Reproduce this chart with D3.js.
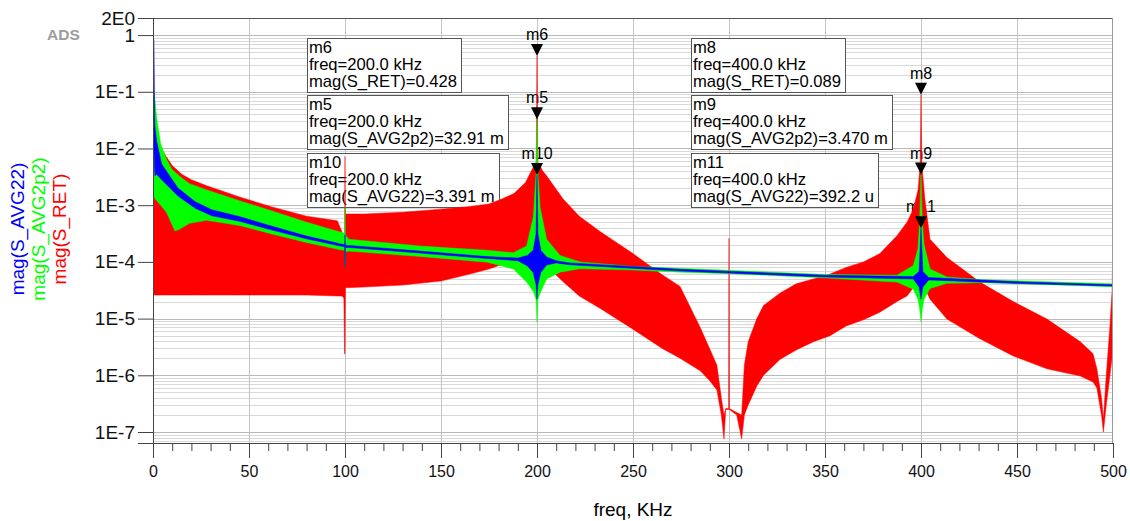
<!DOCTYPE html>
<html lang="en">
<head>
<meta charset="UTF-8">
<title>mag(S) vs freq</title>
<script src="https://d3js.org/d3.v7.min.js"></script>
<style>
  body { margin: 0; background: #fff; }
  svg { display: block; font-family: "Liberation Sans", Arial, sans-serif; }
</style>
</head>
<body>
<svg></svg>
<script>
// envelopes: freq in kHz, upper / lower magnitude of each trace
const retFreq  = [0, 1, 2, 4, 6, 10, 15, 20, 28, 45, 62, 80, 96, 98.4, 99.4, 99.8, 100, 100.2, 110, 130, 150, 165, 175, 182, 188, 194, 197, 199.6, 200, 200.4, 203, 205, 213.5, 222, 233, 250, 265, 274.5, 285, 290, 293.7, 296, 297.4, 298.3, 299.8, 300, 300.2, 304, 306.6, 308, 310, 314.5, 318, 326.5, 335, 344, 352.6, 361, 370, 378.6, 387.5, 392.7, 396, 398.5, 399.6, 400, 400.4, 402, 404.7, 413.5, 430.7, 448, 465.6, 483, 489.6, 491.6, 494, 495, 496.5, 498.4, 499.5, 500];
const retUpper = [4.5e-2, 3.3e-2, 1.8e-2, 1.06e-2, 8.0e-3, 5.0e-3, 3.5e-3, 2.8e-3, 2.2e-3, 1.4e-3, 9.3e-4, 6.4e-4, 5.3e-4, 3.4e-4, 2.1e-4, 1.9e-4, 7.3e-3, 7.0e-4, 7.0e-4, 7.5e-4, 8.5e-4, 9.5e-4, 1.05e-3, 1.3e-3, 1.6e-3, 2.5e-3, 4.0e-3, 5.8e-3, 0.428, 5.8e-3, 4.0e-3, 3.3e-3, 1.3e-3, 6.4e-4, 3.4e-4, 1.4e-4, 6.0e-5, 3.7e-5, 7.0e-6, 2.9e-6, 1.5e-6, 4.0e-7, 2.0e-7, 2.6e-7, 2.6e-7, 2.6e-4, 2.6e-7, 2.2e-7, 2.0e-7, 1.5e-6, 3.9e-6, 1.0e-5, 1.7e-5, 2.8e-5, 4.1e-5, 5.0e-5, 6.1e-5, 8.0e-5, 1.0e-4, 1.4e-4, 2.9e-4, 5.0e-4, 8.5e-4, 1.9e-3, 5.3e-3, 8.9e-2, 5.3e-3, 1.3e-3, 2.5e-4, 1.2e-4, 4.4e-5, 2.0e-5, 9.8e-6, 3.9e-6, 2.4e-6, 1.3e-6, 4.0e-7, 1.7e-7, 1.0e-6, 7.4e-6, 3.0e-5, 2.5e-4];
const retLower = [2.6e-5, 2.6e-5, 2.6e-5, 2.6e-5, 2.6e-5, 2.6e-5, 2.6e-5, 2.6e-5, 2.6e-5, 2.6e-5, 2.6e-5, 2.6e-5, 2.5e-5, 2.5e-5, 2.3e-5, 2.4e-6, 2.4e-6, 3.5e-5, 3.6e-5, 3.9e-5, 4.6e-5, 6.1e-5, 7.5e-5, 9.1e-5, 1.1e-4, 1.5e-4, 1.7e-4, 1.8e-4, 1.8e-4, 1.7e-4, 1.2e-4, 8.5e-5, 4.5e-5, 2.5e-5, 1.5e-5, 6.5e-6, 3.0e-6, 2.0e-6, 1.2e-6, 8.0e-7, 5.5e-7, 2.0e-7, 7.5e-8, 2.5e-7, 2.5e-7, 2.5e-7, 2.5e-7, 2.0e-7, 7.5e-8, 2.0e-7, 3.0e-7, 6.5e-7, 1.0e-6, 1.9e-6, 2.8e-6, 3.9e-6, 5.0e-6, 7.4e-6, 9.5e-6, 1.3e-5, 2.0e-5, 2.5e-5, 3.5e-5, 4.4e-5, 5.0e-5, 5.0e-5, 5.0e-5, 3.5e-5, 2.2e-5, 9.8e-6, 4.4e-6, 2.2e-6, 1.3e-6, 9.7e-7, 7.6e-7, 6.0e-7, 2.0e-7, 1.0e-7, 3.0e-7, 1.0e-6, 2.0e-6, 5.0e-6];

const avg2p2Freq  = [0, 0.5, 1, 2, 4, 7, 10, 11.5, 14, 19, 28, 45, 62, 80, 97, 99.8, 100, 100.2, 102, 139, 174, 187.7, 194.6, 198.1, 199.5, 200, 200.5, 201.6, 205, 212, 222.4, 250, 274.5, 300, 351, 387.5, 396, 398.4, 399.3, 400, 400.7, 401.6, 404.7, 413.5, 430.7, 500];
const avg2p2Upper = [0.12, 0.1, 7.4e-2, 3.3e-2, 1.2e-2, 6.5e-3, 4.2e-3, 3.8e-3, 3.2e-3, 2.4e-3, 1.85e-3, 1.2e-3, 7.9e-4, 5.0e-4, 3.4e-4, 3.2e-4, 9.2e-4, 3.0e-4, 2.5e-4, 1.9e-4, 1.6e-4, 1.45e-4, 1.9e-4, 6.2e-4, 3.5e-3, 3.291e-2, 3.5e-3, 9.2e-4, 2.5e-4, 1.3e-4, 1.0e-4, 8.3e-5, 7.7e-5, 7.1e-5, 6.0e-5, 5.8e-5, 8.6e-5, 1.7e-4, 5.0e-4, 3.47e-3, 5.0e-4, 2.0e-4, 7.5e-5, 5.4e-5, 4.9e-5, 4.1e-5];
const avg2p2Lower = [3.0e-3, 1.5e-3, 1.3e-3, 1.2e-3, 1.0e-3, 7.5e-4, 4.5e-4, 3.5e-4, 3.8e-4, 4.8e-4, 5.4e-4, 4.4e-4, 3.1e-4, 2.2e-4, 1.65e-4, 1.6e-4, 8.1e-5, 1.5e-4, 1.55e-4, 1.25e-4, 9.9e-5, 7.5e-5, 4.4e-5, 3.0e-5, 2.2e-5, 8.7e-6, 2.2e-5, 2.8e-5, 5.0e-5, 6.6e-5, 7.6e-5, 7.2e-5, 6.6e-5, 6.2e-5, 5.2e-5, 4.4e-5, 3.3e-5, 2.2e-5, 1.5e-5, 8.7e-6, 1.5e-5, 2.2e-5, 3.4e-5, 4.2e-5, 4.3e-5, 3.65e-5];

const avg22Freq  = [0, 0.5, 0.8, 1, 1.9, 4.5, 13, 22, 30.6, 45, 62.5, 80, 97, 99.8, 100, 100.2, 102, 139, 174, 190, 195, 198, 199.5, 200, 200.5, 202, 205, 210, 217, 274.5, 351, 396, 399, 400, 401, 404, 448, 500];
const avg22Upper = [1.0, 0.8, 5e-2, 2.5e-2, 1.35e-2, 5.3e-3, 2.0e-3, 1.15e-3, 8.3e-4, 6.3e-4, 4.2e-4, 2.85e-4, 2.1e-4, 2.0e-4, 3.0e-4, 1.97e-4, 1.95e-4, 1.55e-4, 1.24e-4, 1.17e-4, 1.3e-4, 1.6e-4, 3.1e-4, 3.391e-3, 3.1e-4, 1.6e-4, 1.22e-4, 1.05e-4, 9.6e-5, 7.4e-5, 5.8e-5, 5.5e-5, 6.8e-5, 3.922e-4, 6.8e-5, 5.3e-5, 4.5e-5, 3.95e-5];
const avg22Lower = [1.0e-2, 1.0e-2, 4.5e-3, 3.3e-3, 3.5e-3, 2.8e-3, 1.45e-3, 8.8e-4, 6.5e-4, 5.2e-4, 3.6e-4, 2.55e-4, 1.92e-4, 1.85e-4, 8.1e-5, 1.8e-4, 1.8e-4, 1.43e-4, 1.15e-4, 1.05e-4, 8.5e-5, 6.5e-5, 4.0e-5, 2.2e-5, 4.0e-5, 6.5e-5, 8.8e-5, 9.6e-5, 8.9e-5, 6.9e-5, 5.4e-5, 5.0e-5, 3.6e-5, 2.2e-5, 3.6e-5, 4.8e-5, 4.2e-5, 3.75e-5];

// markers
const markerNames   = ["m6", "m5", "m10", "m8", "m9", "m11"];
const markerFreq    = [200, 200, 200, 400, 400, 400];
const markerValue   = [0.428, 0.03291, 0.003391, 0.089, 0.00347, 0.0003922];
const markerSeries  = ["S_RET", "S_AVG2p2", "S_AVG22", "S_RET", "S_AVG2p2", "S_AVG22"];
const markerReadout = ["0.428", "32.91 m", "3.391 m", "0.089", "3.470 m", "392.2 u"];

// axes
const xTickValues = [0, 50, 100, 150, 200, 250, 300, 350, 400, 450, 500];
const yTickValues = [2, 1, 1e-1, 1e-2, 1e-3, 1e-4, 1e-5, 1e-6, 1e-7];
const yTickLabels = ["2E0", "1", "1E-1", "1E-2", "1E-3", "1E-4", "1E-5", "1E-6", "1E-7"];

const width = 1130, height = 521;
const pLeft = 153, pRight = 1113, pTop = 18, pBottom = 443;

const svg = d3.select("svg").attr("width", width).attr("height", height);

const x = d3.scaleLinear().domain([0, 500]).range([pLeft, pRight]);
const y = d3.scaleLog().domain([6.4e-8, 2]).range([pBottom, pTop]);

// grid
const grid = svg.append("g");
grid.selectAll("line.h")
  .data(y.ticks())
  .join("line")
  .attr("x1", pLeft).attr("x2", pRight)
  .attr("y1", d => Math.round(y(d)) + 0.5).attr("y2", d => Math.round(y(d)) + 0.5)
  .attr("stroke", d => Math.abs(Math.log10(d) - Math.round(Math.log10(d))) < 1e-9 ? "#b9b9b9" : "#d9d9d9");
grid.selectAll("line.v")
  .data(xTickValues.slice(1, -1))
  .join("line")
  .attr("x1", d => Math.round(x(d)) + 0.5).attr("x2", d => Math.round(x(d)) + 0.5)
  .attr("y1", pTop).attr("y2", pBottom)
  .attr("stroke", "#c4c4c4");

// marker readout boxes
const boxLeft = {200: 307, 400: 691};
const boxTop = [38, 95, 153];
const boxes = svg.append("g");
markerNames.forEach((name, i) => {
  const g = boxes.append("g")
    .attr("transform", `translate(${boxLeft[markerFreq[i]]},${boxTop[i % 3]})`);
  const rect = g.append("rect").attr("fill", "#fff").attr("stroke", "#555");
  const lines = [name, `freq=${markerFreq[i].toFixed(1)} kHz`, `mag(${markerSeries[i]})=${markerReadout[i]}`];
  const t = g.selectAll("text").data(lines).join("text")
    .attr("x", 2).attr("y", (d, j) => 15 + j * 17)
    .attr("font-size", 16.6).attr("fill", "#000")
    .text(d => d);
  const w = d3.max(t.nodes(), n => n.getComputedTextLength());
  rect.attr("x", 0.5).attr("y", 0.5).attr("width", Math.round(w) + 6).attr("height", 54);
});

// marker labels (under the traces)
svg.append("g").selectAll("text")
  .data(markerNames)
  .join("text")
  .attr("x", (d, i) => x(markerFreq[i]))
  .attr("y", (d, i) => y(markerValue[i]) - 16)
  .attr("text-anchor", "middle")
  .attr("font-size", 16)
  .text(d => d);

// traces
svg.append("clipPath").attr("id", "plot")
  .append("rect").attr("x", pLeft).attr("y", pTop).attr("width", pRight - pLeft).attr("height", pBottom - pTop);

const traces = [
  {f: retFreq, up: retUpper, lo: retLower, color: "#ff0000"},
  {f: avg2p2Freq, up: avg2p2Upper, lo: avg2p2Lower, color: "#00ff00"},
  {f: avg22Freq, up: avg22Upper, lo: avg22Lower, color: "#0000ff"}
];
const area = d3.area()
  .x(d => x(d[0]))
  .y0(d => y(d[2]))
  .y1(d => y(d[1]));

svg.append("g").attr("clip-path", "url(#plot)")
  .selectAll("path")
  .data(traces)
  .join("path")
  .attr("d", t => area(t.f.map((f, i) => [f, t.up[i], t.lo[i]])))
  .attr("fill", t => t.color)
  .attr("stroke", t => t.color)
  .attr("stroke-width", 0.5)
  .attr("stroke-linejoin", "round");

// marker triangles
svg.append("g").selectAll("path")
  .data(markerNames)
  .join("path")
  .attr("transform", (d, i) => `translate(${x(markerFreq[i])},${y(markerValue[i])})`)
  .attr("d", "M-6,-12L6,-12L0,0Z")
  .attr("fill", "#000");

// frame
svg.append("line").attr("x1", pLeft).attr("x2", pRight).attr("y1", pTop + 0.5).attr("y2", pTop + 0.5).attr("stroke", "#555");
svg.append("line").attr("x1", pRight - 0.5).attr("x2", pRight - 0.5).attr("y1", pTop).attr("y2", pBottom).attr("stroke", "#999");

// x axis
svg.append("g").attr("transform", `translate(0,${pBottom})`)
  .call(d3.axisBottom(x).tickValues(d3.range(0, 501, 10)).tickSize(8).tickSizeOuter(0).tickFormat(""));
const xAxis = svg.append("g").attr("transform", `translate(0,${pBottom})`)
  .call(d3.axisBottom(x).tickValues(xTickValues).tickSize(15).tickSizeOuter(0).tickPadding(8).tickFormat(d3.format("d")));
xAxis.selectAll("text").attr("font-size", 16).attr("fill", "#111").attr("font-family", null);

// y axis
const yAxis = svg.append("g").attr("transform", `translate(${pLeft},0)`)
  .call(d3.axisLeft(y).tickValues(yTickValues).tickFormat((d, i) => yTickLabels[i]).tickSize(15).tickSizeOuter(15).tickPadding(3));
yAxis.selectAll("text").attr("font-size", 19).attr("fill", "#111").attr("font-family", null);

svg.selectAll(".domain, .tick line").attr("stroke", "#444");

// titles
svg.append("text")
  .attr("x", x(250)).attr("y", 516)
  .attr("text-anchor", "middle").attr("font-size", 19)
  .text("freq, KHz");

const yLabels = [["mag(S_AVG22)", "#0000ff", 24], ["mag(S_AVG2p2)", "#00ff00", 45], ["mag(S_RET)", "#ff0000", 66]];
svg.append("g").selectAll("text")
  .data(yLabels)
  .join("text")
  .attr("transform", d => `translate(${d[2]},229) rotate(-90)`)
  .attr("text-anchor", "middle")
  .attr("font-size", 19)
  .attr("fill", d => d[1])
  .text(d => d[0]);

svg.append("text")
  .attr("x", 47).attr("y", 40)
  .attr("font-size", 15.5).attr("font-weight", "bold")
  .attr("fill", "#9c9c9c")
  .text("ADS");
</script>
</body>
</html>
